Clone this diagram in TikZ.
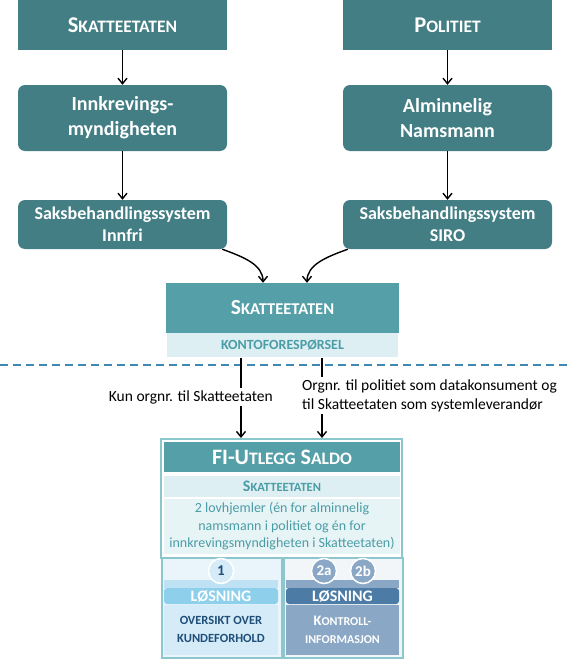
\documentclass[tikz,border=0pt]{standalone}
\usepackage{fontspec}
\setmainfont{Carlito}
\usetikzlibrary{arrows.meta}
\definecolor{tealdark}{HTML}{427E84}
\definecolor{tealmid}{HTML}{55A0A8}
\definecolor{tealpale}{HTML}{DDEFF2}
\definecolor{tealpaler}{HTML}{E7F4F6}
\definecolor{tealtext}{HTML}{4A9CA6}
\definecolor{tealframe}{HTML}{8CC7CD}
\definecolor{dashblue}{HTML}{3D88B5}
\definecolor{skyband}{HTML}{8ED0EB}
\definecolor{skystripe}{HTML}{BEE2F3}
\definecolor{skyfill}{HTML}{D5ECF8}
\definecolor{skytop}{HTML}{EAF5FB}
\definecolor{navytext}{HTML}{1F4E79}
\definecolor{steelband}{HTML}{4C7CA6}
\definecolor{steelfill}{HTML}{8AA8C6}
\definecolor{steeltop}{HTML}{F3F6F9}
\newcommand{\smallcap}[2]{{\fontsize{#2}{#2}\selectfont #1}}
\begin{document}
\begin{tikzpicture}[x=1pt,y=-1pt,
  every node/.style={inner sep=0pt,text=white,font=\bfseries},
  orgbox/.style={fill=tealdark,minimum width=209pt,align=center},
  panelbox/.style={draw=tealframe,line width=1.5pt,minimum height=100pt,anchor=north west},
  badge/.style={circle,draw=white,line width=1.5pt,minimum size=25pt,font=\bfseries\fontsize{15}{15}\selectfont},
  flow/.style={-{Straight Barb[length=5.5pt,width=9pt]},line width=1.4pt,black}]
\useasboundingbox (0,0) rectangle (567,661);
% upper chain, left and right
\node[orgbox,minimum height=50pt,font=\bfseries\fontsize{22.5}{22.5}\selectfont] (skatt) at (122.5,25) {S\smallcap{KATTEETATEN}{17.5}};
\node[orgbox,rounded corners=7pt,minimum height=66pt,font=\bfseries\fontsize{20}{25}\selectfont] (innkr) at (122.5,118) {Innkrevings-\\myndigheten};
\node[orgbox,rounded corners=7pt,minimum height=49pt,font=\bfseries\fontsize{18}{22}\selectfont] (innfri) at (122.5,224.5) {Saksbehandlingssystem\\Innfri};
\node[orgbox,minimum height=50pt,font=\bfseries\fontsize{22.5}{22.5}\selectfont] (politi) at (447.5,25) {P\smallcap{OLITIET}{17.5}};
\node[orgbox,rounded corners=7pt,minimum height=66pt,font=\bfseries\fontsize{20}{25}\selectfont] (namsm) at (447.5,118) {Alminnelig\\Namsmann};
\node[orgbox,rounded corners=7pt,minimum height=49pt,font=\bfseries\fontsize{18}{22}\selectfont] (siro) at (447.5,224.5) {Saksbehandlingssystem\\SIRO};
\draw[flow] (skatt) -- (innkr);
\draw[flow] (innkr) -- (innfri);
\draw[flow] (politi) -- (namsm);
\draw[flow] (namsm) -- (siro);
% kontoforespoersel
\node[fill=tealmid,minimum width=233pt,minimum height=50pt,font=\bfseries\fontsize{21.5}{21.5}\selectfont] (ske) at (282.5,308) {S\smallcap{KATTEETATEN}{16.5}};
\node[fill=tealpale,minimum width=231pt,minimum height=24pt,text=tealtext,font=\bfseries\fontsize{14}{14}\selectfont,anchor=north] (konto) at (ske.south) {KONTOFORESPØRSEL};
\draw[flow] ([xshift=-5pt]innfri.south east) .. controls +(22,8) and +(0,-18) .. ([xshift=-19.5pt]ske.north);
\draw[flow] ([xshift=5pt]siro.south west) .. controls +(-22,8) and +(0,-18) .. ([xshift=24.5pt]ske.north);
\draw[dashblue,line width=1.5pt,dash pattern=on 8pt off 5pt] (0,365) -- (567,365);
% FI-Utlegg Saldo
\node[draw=tealframe,line width=1.5pt,fill=white,minimum width=241pt,minimum height=119pt,anchor=north] (fiframe) at (281.5,438) {};
\node[fill=tealmid,minimum width=236pt,minimum height=30pt,font=\bfseries\fontsize{22}{22}\selectfont] (fititle) at (282,457) {FI-U\smallcap{TLEGG}{17.5} S\smallcap{ALDO}{17.5}};
\node[fill=tealpale,minimum width=236pt,minimum height=21pt,text=tealtext,font=\bfseries\fontsize{16}{16}\selectfont] (fiske) at (282,486.5) {S\smallcap{KATTEETATEN}{12.5}};
\node[fill=tealpaler,minimum width=236pt,minimum height=55pt,text=tealtext,align=center,font=\fontsize{14}{17.5}\selectfont] (filov) at (282,526.5) {2 lovhjemler (én for alminnelig\\namsmann i politiet og én for\\innkrevingsmyndigheten i Skatteetaten)};
\draw[flow] ([xshift=-41.5pt]konto.south) -- ([xshift=-41.5pt]konto.south |- fiframe.north);
\draw[flow] ([xshift=39.5pt]konto.south) -- ([xshift=39.5pt]konto.south |- fiframe.north);
\node[fill=white,inner sep=2pt,text=black,font=\fontsize{15.5}{19}\selectfont,anchor=east] (lblkun) at (275,397) {Kun orgnr. til Skatteetaten};
\node[fill=white,inner sep=2pt,text=black,align=left,font=\fontsize{15.5}{19}\selectfont,anchor=west] (lblorg) at (300,395.5) {Orgnr. til politiet som datakonsument og\\til Skatteetaten som systemleverandør};
% solution panels
\node[panelbox,fill=skytop,minimum width=120pt] (panelone) at (161,557) {};
\node[panelbox,fill=steeltop,minimum width=119pt] (paneltwo) at (283,557) {};
\node[fill=skystripe,minimum width=114pt,minimum height=8pt] (stripeone) at (221,584) {};
\node[fill=skyband,rounded corners=3pt,minimum width=114pt,minimum height=16pt,font=\bfseries\fontsize{16}{16}\selectfont] (loesone) at (221,596) {LØSNING};
\node[fill=skyfill,minimum width=114pt,minimum height=50pt,text=navytext,align=center,font=\bfseries\fontsize{12.5}{18}\selectfont] (oversikt) at (221,629.5) {OVERSIKT OVER\\KUNDEFORHOLD};
\node[badge,fill=skyfill,text=navytext] (numone) at (221,571) {1};
\node[fill=steelfill,minimum width=113pt,minimum height=8pt] (stripetwo) at (342.5,584) {};
\node[fill=steelband,rounded corners=3pt,minimum width=113pt,minimum height=16pt,font=\bfseries\fontsize{16}{16}\selectfont] (loestwo) at (342.5,596) {LØSNING};
\node[fill=steelfill,minimum width=113pt,minimum height=50pt,align=center,font=\bfseries\fontsize{14.5}{18}\selectfont] (kontroll) at (342.5,629.5) {K\smallcap{ONTROLL-}{12}\\\smallcap{INFORMASJON}{12}};
\node[badge,fill=steelfill] (numtwoa) at (324,571) {2a};
\node[badge,fill=steelfill] (numtwob) at (363,571) {2b};
\end{tikzpicture}
\end{document}
